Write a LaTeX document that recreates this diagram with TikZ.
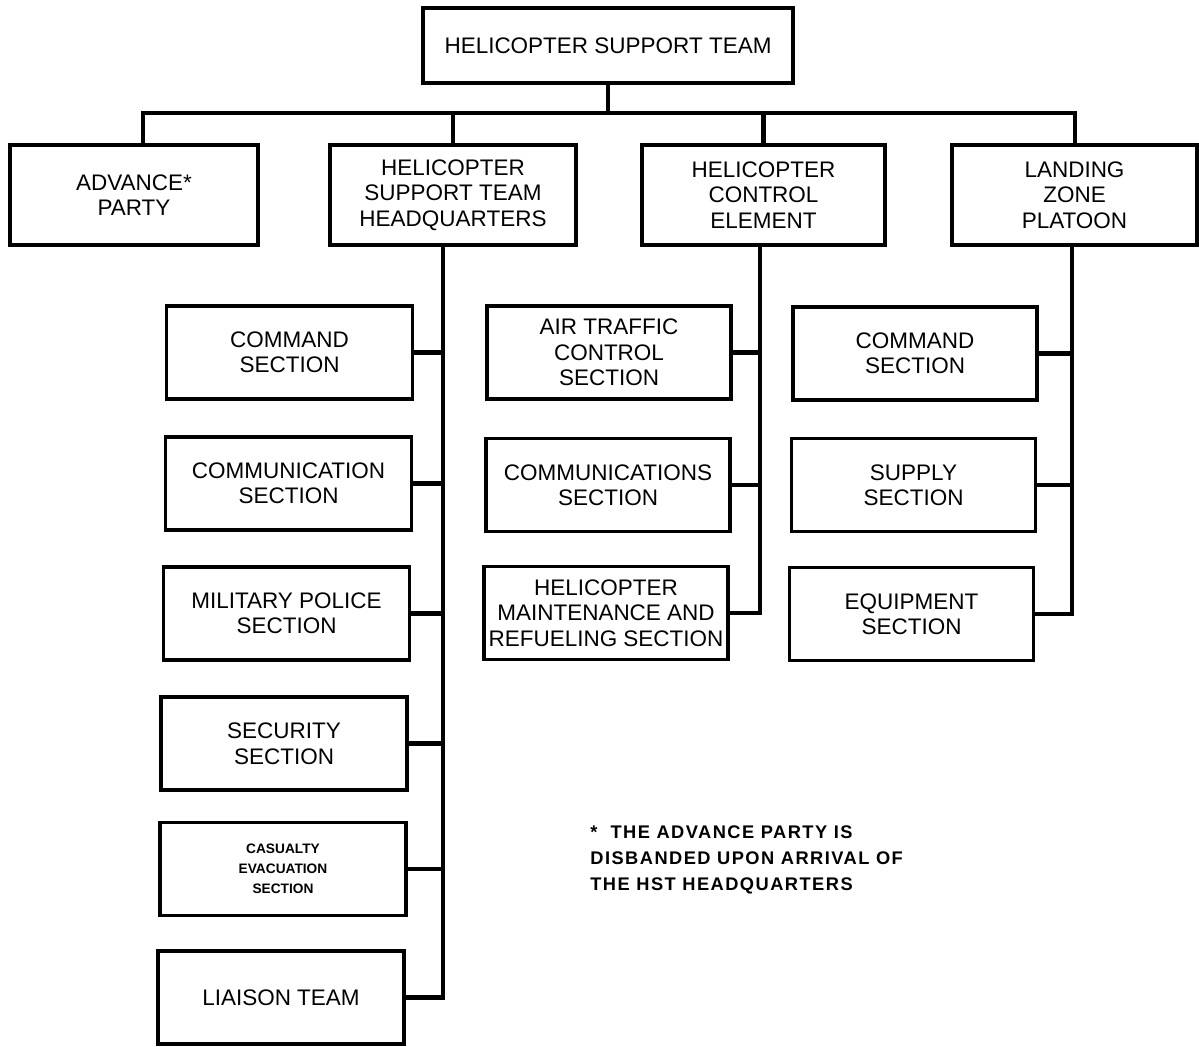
\documentclass[tikz,border=0pt]{standalone}
\usepackage{fontspec}
\setmainfont{Liberation Sans}
\newfontfamily\notefont[LetterSpace=8]{Liberation Sans}
\usetikzlibrary{positioning}

\begin{document}
\begin{tikzpicture}[x=0.02cm,y=-0.02cm,
	unit/.style={draw,line width=1.8pt,align=center,inner sep=0pt,font=\fontsize{12.8}{14.5}\selectfont},
	sub/.style={unit,minimum width=4.92cm,minimum height=1.86cm},
	link/.style={line width=2.8pt,line join=miter}]
	\useasboundingbox (0,0) rectangle (1199,1046);
	% top of the chart
	\node[unit,minimum width=7.4cm,minimum height=1.5cm] (hst) at (608,45.5) {HELICOPTER SUPPORT TEAM};
	\node[unit,minimum width=4.96cm,minimum height=2cm]  (adv) at (134,195)   {ADVANCE*\\PARTY};
	\node[unit,minimum width=4.92cm,minimum height=2cm]  (hq)  at (453,195)   {HELICOPTER\\SUPPORT TEAM\\HEADQUARTERS};
	\node[unit,minimum width=4.86cm,minimum height=2cm]  (hce) at (763.5,195) {HELICOPTER\\CONTROL\\ELEMENT};
	\node[unit,minimum width=4.9cm,minimum height=2cm]   (lzp) at (1074.5,195) {LANDING\\ZONE\\PLATOON};
	% headquarters sections
	\node[sub] (cmdA) at (289.5,352.5) {COMMAND\\SECTION};
	\node[sub] (comA) at (288.5,483.5) {COMMUNICATION\\SECTION};
	\node[sub] (mp)   at (286.5,613.5) {MILITARY POLICE\\SECTION};
	\node[sub] (sec)  at (284,743.5)   {SECURITY\\SECTION};
	\node[sub,font=\bfseries\fontsize{7.8}{11.4}\selectfont] (cas) at (283,869) {CASUALTY\\EVACUATION\\SECTION};
	\node[sub] (lia)  at (281,997.5)   {LIAISON TEAM};
	% control element sections
	\node[sub,minimum width=4.88cm] (atc)   at (609,352.5) {AIR TRAFFIC\\CONTROL\\SECTION};
	\node[sub,minimum width=4.88cm] (comB)  at (608,485)   {COMMUNICATIONS\\SECTION};
	\node[sub,minimum width=4.88cm] (maint) at (606,613)   {HELICOPTER\\MAINTENANCE AND\\REFUELING SECTION};
	% landing zone platoon sections
	\node[sub,minimum width=4.88cm] (cmdB) at (915,353.5)  {COMMAND\\SECTION};
	\node[sub,minimum width=4.88cm] (sup)  at (913.5,485)  {SUPPLY\\SECTION};
	\node[sub,minimum width=4.88cm] (eqp)  at (911.5,614)  {EQUIPMENT\\SECTION};
	% note
	\node[anchor=north west,align=left,inner sep=0pt,font=\notefont\bfseries\fontsize{10.4}{14.8}\selectfont] (note) at (590,825)
		{*\ \ THE ADVANCE PARTY IS\\DISBANDED UPON ARRIVAL OF\\THE HST HEADQUARTERS};

	\coordinate (busL) at (143,113);
	\coordinate (busR) at (1075,113);
	\coordinate (hqT)  at (443,997.5);
	\coordinate (hceT) at (760,613);
	\coordinate (lzpT) at (1072,614);

	\draw[link] (hst.south) -- (hst.south |- busL);
	\draw[link] (busL |- adv.north) -- (busL) -- (busR) -- (busR |- lzp.north);
	\draw[link] (hq.north) -- (hq.north |- busL);
	\draw[link] (hce.north) -- (hce.north |- busL);

	\draw[link] (hqT |- hq.south) -- (hqT) -- (lia.east);
	\draw[link] (cmdA.east) -- (cmdA.east -| hqT);
	\draw[link] (comA.east) -- (comA.east -| hqT);
	\draw[link] (mp.east) -- (mp.east -| hqT);
	\draw[link] (sec.east) -- (sec.east -| hqT);
	\draw[link] (cas.east) -- (cas.east -| hqT);

	\draw[link] (hceT |- hce.south) -- (hceT) -- (maint.east);
	\draw[link] (atc.east) -- (atc.east -| hceT);
	\draw[link] (comB.east) -- (comB.east -| hceT);

	\draw[link] (lzpT |- lzp.south) -- (lzpT) -- (eqp.east);
	\draw[link] (cmdB.east) -- (cmdB.east -| lzpT);
	\draw[link] (sup.east) -- (sup.east -| lzpT);
\end{tikzpicture}
\end{document}
